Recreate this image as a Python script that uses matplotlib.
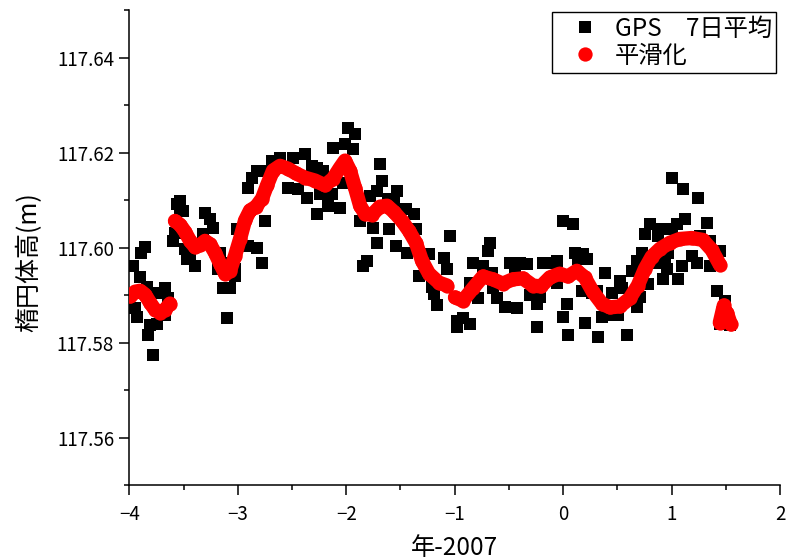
import numpy as np
import matplotlib
matplotlib.use("Agg")
import matplotlib.pyplot as plt
from matplotlib.lines import Line2D
from matplotlib.ticker import MultipleLocator

plt.rcParams['font.family'] = ['Noto Sans CJK JP', 'DejaVu Sans']

# GPS 7-day averages (year - 2007, ellipsoidal height in m)
gps_x = [
    -3.966, -3.892, -3.855, -3.901, -3.837, -3.947, -3.929, -3.809, -3.745, -3.828,
    -3.781, -3.735, -3.671, -3.643, -3.671, -3.532, -3.532, -3.560, -3.505, -3.597,
    -3.579, -3.486, -3.468, -3.394, -3.440, -3.302, -3.256, -3.228, -3.320, -3.163,
    -3.145, -3.182, -3.136, -3.071, -3.099, -3.025, -3.025, -3.007, -2.979, -2.905,
    -2.822, -2.776, -2.749, -2.905, -2.868, -2.822, -2.776, -2.684, -2.610, -2.491,
    -2.380, -2.537, -2.445, -2.362, -2.315, -2.269, -2.214, -2.269, -2.168, -2.057,
    -2.242, -2.131, -2.122, -2.011, -1.937, -1.984, -1.919, -1.689, -1.670, -1.716,
    -1.781, -1.532, -2.030, -1.615, -1.560, -1.449, -1.375, -1.872, -1.753, -1.606,
    -1.357, -1.716, -1.541, -1.440, -1.808, -1.845, -1.237, -1.099, -1.071, -1.329,
    -1.043, -1.209, -1.191, -1.163, -0.979, -0.924, -0.859, -0.979, -0.832, -0.740,
    -0.675, -0.694, -0.657, -0.648, -0.611, -0.537, -0.786, -0.859, -0.491, -0.445,
    -0.399, -0.334, -0.427, -0.306, -0.242, -0.214, -0.187, -0.104, -0.242, -0.003,
    0.089, 0.108, 0.182, 0.219, 0.135, -0.058, -0.058, 0.172, 0.265, 0.311,
    0.034, -0.003, 0.200, 0.043, 0.320, 0.385, 0.449, 0.523, 0.541, 0.357,
    0.431, 0.505, 0.587, 0.633, 0.679, 0.726, 0.661, 0.707, 0.679, 0.781,
    0.754, 0.800, 0.892, 0.873, 1.003, 1.049, 1.123, 0.846, 0.938, 0.966,
    0.920, 1.058, 0.957, 1.095, 1.187, 1.233, 1.003, 1.104, 1.242, 1.325,
    1.261, 1.353, 1.445, 1.353, 1.418, 1.491, 1.445, 1.537,
]
gps_y = [
    117.5961, 117.5989, 117.6001, 117.5937, 117.5916, 117.5872, 117.5853, 117.5836, 117.5840, 117.5815,
    117.5773, 117.5905, 117.5914, 117.5893, 117.5857, 117.6098, 117.6084, 117.6092, 117.6077, 117.6014,
    117.6031, 117.5997, 117.5976, 117.5961, 117.5982, 117.6073, 117.6060, 117.6041, 117.6029, 117.5989,
    117.5968, 117.5955, 117.5914, 117.5914, 117.5851, 117.5955, 117.5941, 117.6039, 117.6025, 117.6003,
    117.5999, 117.5968, 117.6056, 117.6126, 117.6147, 117.6162, 117.6162, 117.6183, 117.6189, 117.6189,
    117.6197, 117.6126, 117.6124, 117.6105, 117.6172, 117.6168, 117.6162, 117.6071, 117.6088, 117.6084,
    117.6113, 117.6113, 117.6210, 117.6218, 117.6208, 117.6251, 117.6240, 117.6176, 117.6140, 117.6119,
    117.6109, 117.6119, 117.6136, 117.6103, 117.6094, 117.6081, 117.6071, 117.6056, 117.6041, 117.6039,
    117.6039, 117.6010, 117.6003, 117.5989, 117.5972, 117.5961, 117.5987, 117.5978, 117.5955, 117.5941,
    117.6025, 117.5916, 117.5903, 117.5878, 117.5846, 117.5851, 117.5840, 117.5832, 117.5968, 117.5961,
    117.6010, 117.5993, 117.5947, 117.5914, 117.5893, 117.5874, 117.5893, 117.5926, 117.5968, 117.5955,
    117.5968, 117.5965, 117.5872, 117.5899, 117.5882, 117.5895, 117.5968, 117.5968, 117.5832, 117.6056,
    117.6050, 117.5989, 117.5987, 117.5976, 117.5976, 117.5972, 117.5926, 117.5909, 117.5905, 117.5909,
    117.5882, 117.5853, 117.5842, 117.5815, 117.5811, 117.5947, 117.5905, 117.5930, 117.5914, 117.5853,
    117.5857, 117.5857, 117.5815, 117.5951, 117.5972, 117.5989, 117.5895, 117.5895, 117.5874, 117.5924,
    117.6029, 117.6050, 117.6039, 117.6025, 117.6039, 117.6050, 117.6060, 117.5968, 117.5976, 117.5989,
    117.5934, 117.5934, 117.5955, 117.5961, 117.5982, 117.5968, 117.6147, 117.6124, 117.6105, 117.6052,
    117.6025, 117.6014, 117.5993, 117.5961, 117.5909, 117.5888, 117.5840, 117.5836,
]

# Smoothed series; NaN marks gaps between the continuous runs
smooth_x = [
    -3.990, -3.947, -3.900, -3.855, -3.809, -3.763, -3.717, -3.671, -3.625,
    np.nan,
    -3.579, -3.532, -3.486, -3.440, -3.394, -3.348, -3.302, -3.256, -3.210, -3.163,
    -3.117, -3.071, -3.025, -2.979, -2.933, -2.887, -2.831, -2.776, -2.730, -2.675,
    -2.610, -2.537, -2.463, -2.380, -2.288, -2.196, -2.122, -2.057, -2.011, -1.965,
    -1.919, -1.872, -1.826, -1.762, -1.689, -1.624, -1.560, -1.486, -1.421, -1.357,
    -1.301, -1.237, -1.145, -1.071,
    np.nan,
    -0.997, -0.924, -0.832, -0.740, -0.648, -0.556, -0.464, -0.371, -0.279, -0.205,
    -0.122, -0.031, 0.043, 0.126, 0.200, 0.274, 0.357, 0.431, 0.523, 0.615,
    0.689, 0.754, 0.818, 0.892, 0.984, 1.076, 1.187, 1.288, 1.371, 1.445,
    np.nan,
    1.445, 1.482, 1.501, 1.510, 1.547,
]
smooth_y = [
    117.5897, 117.5907, 117.5909, 117.5901, 117.5884, 117.5869, 117.5863, 117.5869, 117.5882,
    np.nan,
    117.6056, 117.6048, 117.6033, 117.6014, 117.6001, 117.6005, 117.6014, 117.6007, 117.5989, 117.5966,
    117.5945, 117.5951, 117.5983, 117.6018, 117.6057, 117.6078, 117.6086, 117.6103, 117.6131, 117.6162,
    117.6172, 117.6166, 117.6156, 117.6147, 117.6141, 117.6131, 117.6145, 117.6168, 117.6183, 117.6162,
    117.6126, 117.6088, 117.6071, 117.6069, 117.6086, 117.6088, 117.6075, 117.6056, 117.6035, 117.6010,
    117.5972, 117.5945, 117.5926, 117.5920,
    np.nan,
    117.5895, 117.5888, 117.5914, 117.5939, 117.5933, 117.5924, 117.5933, 117.5935, 117.5920, 117.5918,
    117.5937, 117.5945, 117.5939, 117.5951, 117.5937, 117.5907, 117.5882, 117.5874, 117.5876, 117.5893,
    117.5920, 117.5955, 117.5981, 117.5997, 117.6010, 117.6018, 117.6020, 117.6016, 117.5995, 117.5964,
    np.nan,
    117.5842, 117.5878, 117.5851, 117.5863, 117.5838,
]

x_ticks = [-4, -3, -2, -1, 0, 1, 2]
y_ticks = [117.56, 117.58, 117.60, 117.62, 117.64]
y_tick_labels = ["117.56", "117.58", "117.60", "117.62", "117.64"]

fig = plt.figure(figsize=(7.87, 5.60), dpi=100)
ax = fig.add_axes([0.1643, 0.1339, 0.8268, 0.8482])

ax.plot(gps_x, gps_y, linestyle='none', marker='s', markersize=8.2,
        color='black', markeredgewidth=0, zorder=2)
ax.plot(smooth_x, smooth_y, color='red', linewidth=10.3, marker='o',
        markersize=10.3, markeredgewidth=0, solid_capstyle='round',
        solid_joinstyle='round', zorder=3)

ax.set_xlim(-4, 2)
ax.set_ylim(117.55, 117.65)
ax.set_xticks(x_ticks)
ax.set_xticklabels([str(v).replace('-', '\u2212') for v in x_ticks])
ax.set_yticks(y_ticks)
ax.set_yticklabels(y_tick_labels)
ax.xaxis.set_minor_locator(MultipleLocator(0.5))
ax.yaxis.set_minor_locator(MultipleLocator(0.01))

for side in ('top', 'right'):
    ax.spines[side].set_visible(False)
for side in ('left', 'bottom'):
    ax.spines[side].set_linewidth(1.1)

ax.tick_params(which='major', direction='out', length=7, width=1.1,
               labelsize=13.5, pad=4)
ax.tick_params(axis='x', which='major', pad=7)
ax.tick_params(which='minor', direction='out', length=3.5, width=1.1)

ax.set_xlabel("年-2007", fontsize=17.5, labelpad=7)
ax.set_ylabel("楕円体高(m)", fontsize=18)
ax.yaxis.set_label_coords(-0.134, 0.469)

handles = [
    Line2D([], [], linestyle='none', marker='s', markersize=8.2,
           color='black', markeredgewidth=0),
    Line2D([], [], linestyle='none', marker='o', markersize=10.3,
           color='red', markeredgewidth=0),
]
leg = fig.legend(handles, ["GPS\u30007日平均", "平滑化"],
                 loc='upper right', bbox_to_anchor=(776 / 787, 1 - 12 / 560),
                 fontsize=17.5, frameon=True, fancybox=False,
                 edgecolor='black', framealpha=1, borderpad=0.15,
                 handlelength=2.4, handletextpad=0.05, labelspacing=0.05,
                 borderaxespad=0)
leg.get_frame().set_linewidth(1.0)

fig.savefig("out.png", dpi=100)
